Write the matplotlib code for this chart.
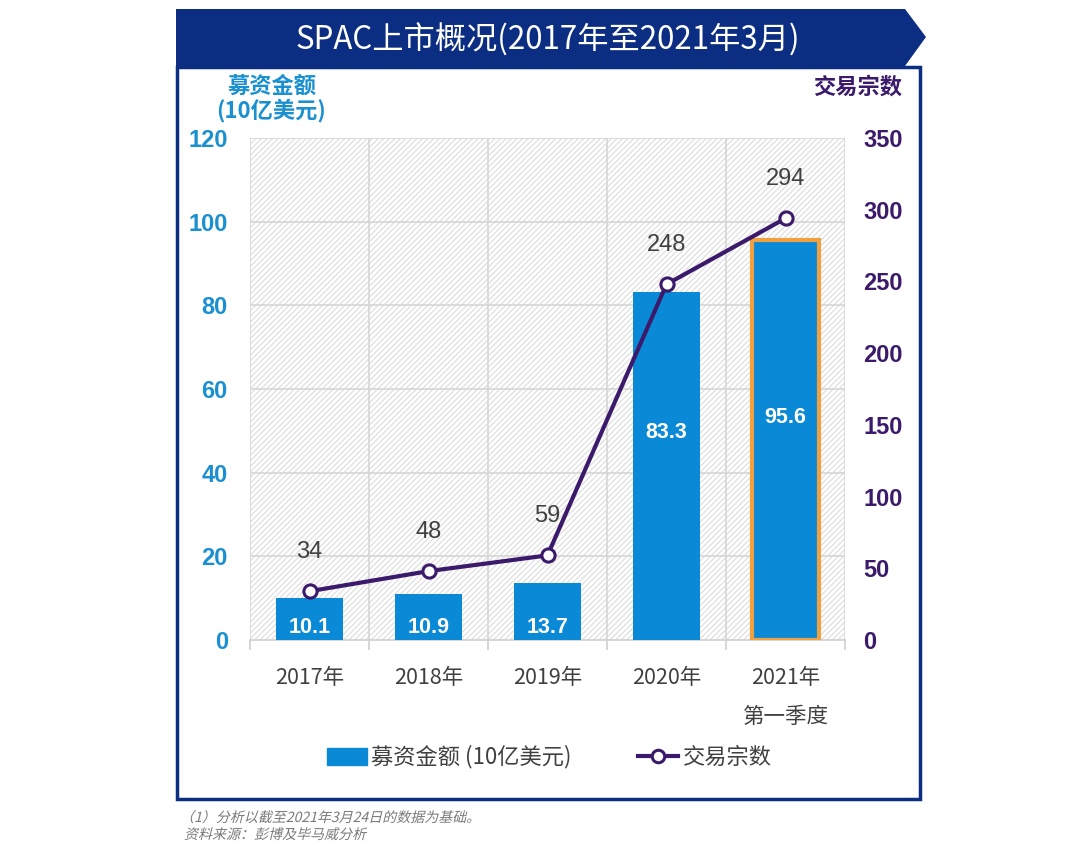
import numpy as np
import matplotlib
matplotlib.use('Agg')
import matplotlib.pyplot as plt
from matplotlib.patches import Rectangle, Polygon, PathPatch
from matplotlib.lines import Line2D
from matplotlib.textpath import TextPath
from matplotlib.font_manager import FontProperties
from matplotlib.transforms import Affine2D, IdentityTransform

plt.rcParams['font.family'] = ['Noto Sans CJK SC', 'DejaVu Sans']
plt.rcParams['hatch.linewidth'] = 0.8

W, H = 1080, 867

years = ['2017年', '2018年', '2019年', '2020年', '2021年']
sub_label = '第一季度'
funds = [10.1, 10.9, 13.7, 83.3, 95.6]      # 募资金额 (10亿美元)
deals = [34, 48, 59, 248, 294]              # 交易宗数
notes = ['（1）分析以截至2021年3月24日的数据为基础。', '资料来源：彭博及毕马威分析']

BLUE = '#0a8ad6'
BLUE_TXT = '#1a90d0'
PURPLE = '#3b1a6b'
NAVY = '#0b2e82'
GRAY = '#404040'
ORANGE = '#f0a040'


def px(x, y):
    return x / W, 1 - y / H


fig = plt.figure(figsize=(W / 100, H / 100), dpi=100)

# 外框和标题条
fig.patches.append(Rectangle(px(177, 799), 743 / W, 732 / H, transform=fig.transFigure,
                             fill=False, edgecolor=NAVY, linewidth=2.5))
banner = [px(176, 9), px(905, 9), px(926, 37), px(905, 66), px(176, 66)]
fig.patches.append(Polygon(banner, closed=True, transform=fig.transFigure,
                           facecolor=NAVY, edgecolor='none'))
fig.text(*px(548, 40), 'SPAC上市概况(2017年至2021年3月)', color='white', fontsize=22.5,
         fontweight='medium', ha='center', va='center')

ax = fig.add_axes([250 / W, 1 - 640 / H, 595 / W, 502 / H])
ax.set_facecolor('white')
ax.add_patch(Rectangle((0, 0), 1, 1, transform=ax.transAxes, facecolor='white',
                       edgecolor='#dcdcdc', hatch='//////', linewidth=0, zorder=0))
x = np.arange(len(years))

bars = ax.bar(x, funds, width=0.57, color=BLUE, zorder=3)
bars[-1].set_edgecolor(ORANGE)
bars[-1].set_linewidth(3)

for xi, v in zip(x, funds):
    y = v * 0.3 + 24.5 if v > 50 else 3.1
    ax.text(xi, y, f'{v}', color='white', fontsize=15.5, fontweight='bold',
            family='Liberation Sans', ha='center', va='center', zorder=5)

ax.set_xlim(-0.5, 4.5)
ax.set_ylim(0, 120)
ax.set_yticks(np.arange(0, 121, 20))
ax.set_xticks(x)
ax.set_xticklabels([])
ax.set_xticks(np.arange(-0.5, 4.6, 1), minor=True)
ax.grid(False)
for gy in np.arange(20, 121, 20):
    ax.axhline(gy, color='#d6d6d6', linewidth=1.2, zorder=1)
for gx in np.arange(-0.5, 4.6, 1):
    ax.axvline(gx, color='#d6d6d6', linewidth=1.2, zorder=1)
for s in ['left', 'right', 'top']:
    ax.spines[s].set_visible(False)
ax.spines['bottom'].set_color('#d0d0d0')
ax.spines['bottom'].set_linewidth(1.2)
ax.tick_params(axis='x', which='major', length=0)
ax.tick_params(axis='x', which='minor', length=7, color='#d0d0d0', width=1.2)
ax.tick_params(axis='y', length=0, pad=16, labelcolor=BLUE_TXT, labelsize=17)
for t in ax.get_yticklabels():
    t.set_fontweight('bold')
    t.set_family('Liberation Sans')

ax2 = ax.twinx()
ax2.set_ylim(0, 350)
ax2.set_yticks(np.arange(0, 351, 50))
ax2.plot(x, deals, color=PURPLE, linewidth=3, marker='o', markersize=9.5,
         markerfacecolor='white', markeredgecolor=PURPLE, markeredgewidth=2.2, zorder=6)
for xi, v in zip(x, deals):
    ax2.annotate(str(v), (xi, v), xytext=(0, 28), textcoords='offset points',
                 ha='center', va='center', color=GRAY, fontsize=17, family='Liberation Sans')
for s in ax2.spines.values():
    s.set_visible(False)
ax2.tick_params(axis='y', length=0, pad=13, labelcolor=PURPLE, labelsize=17)
for t in ax2.get_yticklabels():
    t.set_fontweight('bold')
    t.set_family('Liberation Sans')

# x 轴标签
for xi, lab in zip(x, years):
    ax.text(xi, -9, lab, color=GRAY, fontsize=15.5, fontweight='medium',
            ha='center', va='center')
ax.text(x[-1], -18.5, sub_label, color=GRAY, fontsize=15.5, fontweight='medium',
        ha='center', va='center')

# 轴标题
fig.text(*px(272, 86), '募资金额', color=BLUE_TXT, fontsize=16, fontweight='bold',
         ha='center', va='center')
fig.text(*px(271, 110), '(10亿美元)', color=BLUE_TXT, fontsize=16, fontweight='bold',
         ha='center', va='center')
fig.text(*px(858, 87), '交易宗数', color=PURPLE, fontsize=16, fontweight='bold',
         ha='center', va='center')

# 图例
handles = [Rectangle((0, 0), 1, 1, color=BLUE),
           Line2D([0], [0], color=PURPLE, linewidth=3, marker='o', markersize=9,
                  markerfacecolor='white', markeredgecolor=PURPLE, markeredgewidth=2.2)]
fig.legend(handles, ['募资金额 (10亿美元)', '交易宗数'], loc='center',
           bbox_to_anchor=px(549, 757), ncol=2, frameon=False, fontsize=16,
           handlelength=1.8, handleheight=0.8, columnspacing=3.0, handletextpad=0.2,
           labelcolor=GRAY)

# 脚注（斜体，用倾斜的文字路径画）
fp = FontProperties(family='Noto Sans CJK SC', size=14)
for (nx, ny), note in zip([(180, 822), (184, 839)], notes):
    tp = TextPath((0, 0), note, prop=fp)
    tr = Affine2D().skew_deg(14, 0).translate(nx, H - ny)
    fig.patches.append(PathPatch(tp, transform=tr + IdentityTransform(),
                                 facecolor='#7a7a7a', edgecolor='none'))

fig.savefig('out.png', dpi=100)
